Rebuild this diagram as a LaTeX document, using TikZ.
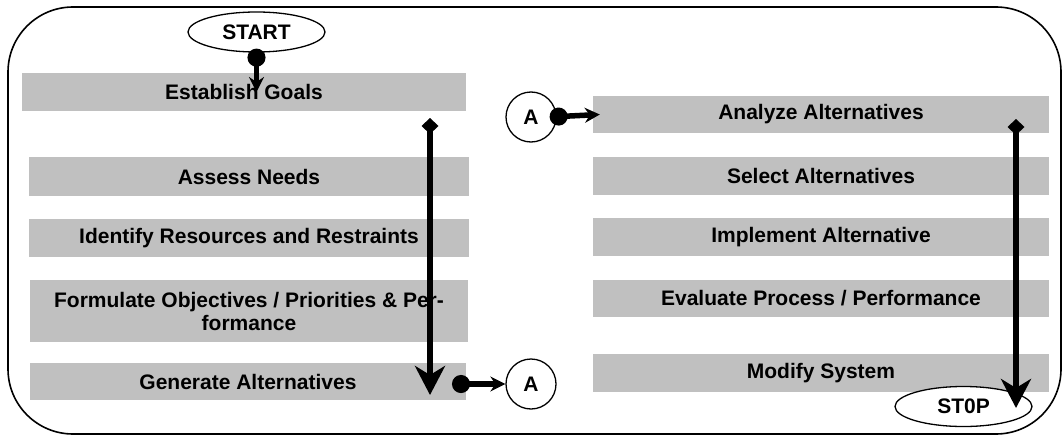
\documentclass[tikz,border=0pt]{standalone}
\usepackage{fontspec}
\setmainfont{Liberation Sans}
\usetikzlibrary{arrows.meta,shapes.geometric}
\definecolor{boxgray}{HTML}{C0C0C0}
\begin{document}
\begin{tikzpicture}[x=1pt,y=-1pt,
  lbl/.style={font=\bfseries\fontsize{21}{23}\selectfont},
  box/.style={lbl, fill=boxgray, draw=none, inner sep=0pt, align=center},
  term/.style={lbl, ellipse, draw, line width=1.3pt, fill=white, minimum width=137pt, minimum height=40pt, inner sep=0pt},
  conncirc/.style={lbl, circle, draw, line width=1.3pt, fill=white, minimum size=50pt, inner sep=0pt},
  conn/.style={line width=5.5pt},
  bigtip/.tip={Stealth[length=29pt,width=30pt,inset=9pt]},
  smalltip/.tip={Stealth[length=15pt,width=15pt,inset=5pt]},
  dottip/.tip={Circle[length=18pt]},
  diamtip/.tip={Diamond[length=16pt,width=17pt]}]
\useasboundingbox (0,0) rectangle (1063,436);
% outer frame
\draw[line width=1.6pt, rounded corners=65pt] (8,7) rectangle (1061,434);
% left column
\node[box, minimum width=444pt, minimum height=38pt] (goals) at (244,92) {Establish Goals};
\node[box, minimum width=440pt, minimum height=39pt] (needs) at (249,176.5) {Assess Needs};
\node[box, minimum width=440pt, minimum height=38pt] (resources) at (249,238) {Identify Resources and Restraints};
\node[box, minimum width=438pt, minimum height=62pt] (objectives) at (249,311) {Formulate Objectives / Priorities \& Per-\\formance};
\node[box, minimum width=436pt, minimum height=37pt] (generate) at (248,381.5) {Generate Alternatives};
% right column
\node[box, minimum width=456pt, minimum height=37pt] (analyze) at (821,114.5) {Analyze Alternatives};
\node[box, minimum width=456pt, minimum height=38pt] (select) at (821,176) {Select Alternatives};
\node[box, minimum width=456pt, minimum height=38pt] (implement) at (821,237) {Implement Alternative};
\node[box, minimum width=456pt, minimum height=37pt] (evaluate) at (821,298.5) {Evaluate Process / Performance};
\node[box, minimum width=456pt, minimum height=38pt] (modify) at (821,373) {Modify System};
% terminals and connectors
\node[term] (start) at (256.5,32) {START};
\node[term] (stop) at (963.5,406.5) {ST0P};
\node[conncirc] (A1) at (531,384) {A};
\node[conncirc] (A2) at (531,117) {A};
% arrows
\coordinate (L1) at (430,118);
\coordinate (L2) at (430,395);
\coordinate (R1) at (1016,119);
\coordinate (R2) at (1016,408);
\coordinate (gdot) at (452,384);
\draw[conn, {dottip}-{smalltip}] ([yshift=4pt]start.south) -- (start.south |- goals.center);
\draw[conn, {diamtip}-{bigtip}] (L1) -- (L2);
\draw[conn, {dottip}-{smalltip}] (gdot) -- (A1.west);
\draw[conn, {dottip}-{smalltip}] ([xshift=-7pt]A2.east) -- ([xshift=7pt]analyze.west);
\draw[conn, {diamtip}-{bigtip}] (R1) -- (R2);
\end{tikzpicture}
\end{document}
